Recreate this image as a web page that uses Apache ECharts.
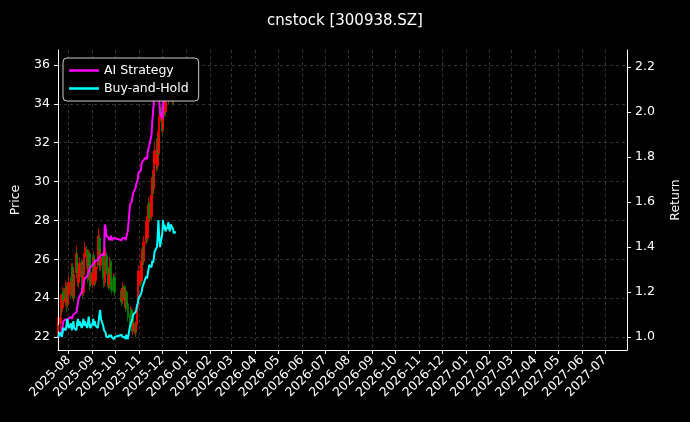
<!DOCTYPE html>
<html>
<head>
<meta charset="utf-8">
<script src="https://cdn.jsdelivr.net/npm/echarts@6/dist/echarts.min.js"></script>
<style>html,body{margin:0;background:#000}#chart{width:690px;height:422px}</style>
</head>
<body>
<div id="chart"></div>
<script>
// trading days start / holidays
const startDay = '2025-07-18';
const holidays = ['2025-10-01', '2025-10-02', '2025-10-03', '2025-10-06', '2025-10-07', '2025-10-08'];

// [open, close, low, high]
const ohlc = [
  [22.3,22.6,22.0,23.0],[22.7,23.0,22.4,23.4],[23.1,23.8,22.9,24.2],[23.9,23.4,23.1,24.1],[23.5,24.2,23.3,24.6],
  [24.3,23.9,23.6,24.5],[23.8,24.5,23.6,24.9],[24.6,24.0,23.8,24.8],[24.1,23.6,23.3,24.3],[23.7,24.3,23.5,24.6],
  [24.2,24.8,24.0,25.2],[24.9,24.2,24.0,25.1],[24.3,25.5,24.1,25.8],[25.6,24.9,24.6,25.8],[24.9,24.0,23.8,25.1],
  [24.1,25.2,23.9,25.5],[25.3,26.3,25.0,26.7],[26.2,25.6,25.3,26.5],[25.7,24.8,24.6,25.9],[24.8,25.0,24.5,25.4],
  [25.1,25.8,24.9,26.1],[25.9,24.9,24.7,26.0],[24.9,24.2,24.0,25.1],[24.3,25.1,24.1,25.4],[25.2,26.0,25.0,26.3],
  [26.1,26.6,25.8,26.9],[26.5,25.7,25.5,26.7],[25.8,25.0,24.8,25.9],[25.1,26.2,24.9,26.5],[26.3,25.4,25.2,26.4],
  [25.5,24.6,24.4,25.6],[24.7,25.3,24.5,25.6],[25.4,26.1,25.2,26.4],[26.2,25.5,25.3,26.3],[25.6,24.8,24.6,25.7],
  [24.9,25.6,24.7,25.9],[25.7,26.4,25.5,26.7],[26.5,27.2,26.3,27.6],[27.1,26.5,26.2,27.3],[26.6,25.6,25.4,26.7],
  [25.7,26.1,25.4,26.4],[26.2,25.2,25.0,26.3],[25.3,24.7,24.5,25.4],[24.8,25.5,24.6,25.8],[25.6,26.3,25.4,26.6],
  [26.2,25.4,25.2,26.4],[25.5,24.6,24.4,25.6],[24.7,25.2,24.5,25.5],[25.3,25.8,25.1,26.1],[25.9,24.9,24.7,26.0],
  [25.0,24.4,24.2,25.1],[24.5,25.0,24.3,25.3],[25.1,24.3,24.1,25.2],[24.4,23.8,23.6,24.5],[23.9,24.5,23.7,24.8],
  [24.6,24.0,23.8,24.7],[24.1,23.5,23.3,24.2],[23.6,24.2,23.4,24.5],[24.3,23.6,23.4,24.4],[23.7,23.0,22.8,23.8],
  [23.1,22.6,22.4,23.2],[22.7,23.3,22.5,23.6],[23.4,22.8,22.6,23.5],[22.9,22.3,22.1,23.0],[22.4,22.6,22.1,22.9],
  [22.7,22.2,22.0,22.8],[22.3,22.5,22.1,22.8],[22.6,23.4,22.4,23.7],[23.5,24.6,23.3,24.9],[24.7,25.4,24.5,25.7],
  [25.5,24.8,24.6,25.6],[24.9,25.9,24.7,26.2],[26.0,26.5,25.8,26.9],[26.6,25.8,25.6,26.7],[25.9,26.9,25.7,27.2],
  [27.0,27.6,26.8,28.0],[27.7,27.0,26.8,27.8],[27.1,28.2,26.9,28.5],[28.3,28.8,28.0,29.2],[28.9,28.1,27.9,29.0],
  [28.2,29.3,28.0,29.7],[29.4,30.2,29.2,30.6],[30.3,29.5,29.3,30.4],[29.6,30.8,29.4,31.2],[30.9,31.6,30.7,32.0],
  [31.7,30.7,30.5,31.8],[30.8,32.2,30.6,32.6],[32.3,31.4,31.2,32.4],[31.5,33.0,31.3,33.4],[33.1,33.8,32.9,34.2],
  [33.9,32.6,32.4,34.0],[32.7,33.9,32.5,34.3],[34.0,34.6,33.8,35.0],[34.7,33.5,33.3,34.8],[33.6,34.8,33.4,35.2],
  [34.9,35.4,34.6,35.8],[35.5,34.2,34.0,35.6],[34.3,35.0,34.1,35.4],[35.1,34.4,34.2,35.2],[34.5,34.9,34.3,35.3],
  [35.0,34.1,33.9,35.1],[34.2,35.2,34.0,35.6],[35.3,34.6,34.4,35.4],[34.7,35.0,34.5,35.4]
];

const aiStrategy = [
  1.00,1.01,1.02,1.03,1.05,1.07,1.08,1.08,1.07,1.08,
  1.08,1.09,1.08,1.09,1.10,1.10,1.11,1.13,1.15,1.17,
  1.18,1.20,1.22,1.23,1.25,1.26,1.27,1.28,1.29,1.30,
  1.31,1.32,1.32,1.33,1.33,1.34,1.34,1.35,1.35,1.36,
  1.36,1.37,1.36,1.50,1.49,1.45,1.44,1.43,1.44,1.45,
  1.43,1.44,1.44,1.43,1.44,1.44,1.43,1.44,1.46,1.47,
  1.59,1.59,1.60,1.62,1.64,1.66,1.68,1.68,1.70,1.73,
  1.74,1.77,1.78,1.78,1.78,1.80,1.79,1.82,1.84,1.85,
  1.90,1.96,2.00,2.05,2.08,2.10,2.12,2.10,2.05,2.00,
  1.97,2.03,2.08,2.12,2.15,2.14,2.16,2.15,2.18,2.17,
  2.16,2.19,2.18,2.18
];

const buyHold = [
  1.00,1.02,1.01,1.00,1.02,1.04,1.03,1.05,1.08,1.06,
  1.04,1.06,1.03,1.05,1.07,1.04,1.03,1.06,1.08,1.05,
  1.07,1.04,1.06,1.08,1.05,1.07,1.04,1.06,1.09,1.06,
  1.04,1.06,1.08,1.05,1.07,1.05,1.04,1.07,1.10,1.12,
  1.08,1.05,1.03,1.03,1.02,1.00,1.00,1.01,1.00,1.01,
  1.00,0.99,1.00,1.01,1.00,1.00,0.99,1.01,1.00,0.99,
  1.05,1.06,1.07,1.08,1.10,1.11,1.12,1.14,1.15,1.17,
  1.19,1.20,1.22,1.23,1.24,1.27,1.26,1.28,1.30,1.32,
  1.31,1.34,1.33,1.35,1.38,1.40,1.45,1.52,1.44,1.40,
  1.46,1.52,1.48,1.50,1.47,1.49,1.51,1.48,1.47,1.50,
  1.48,1.46,1.47,1.46
];

const priceTicks = [22, 24, 26, 28, 30, 32, 34, 36];
const returnTicks = [1.0, 1.2, 1.4, 1.6, 1.8, 2.0, 2.2];
const monthTicks = ['2025-08','2025-09','2025-10','2025-11','2025-12','2026-01','2026-02','2026-03','2026-04',
  '2026-05','2026-06','2026-07','2026-08','2026-09','2026-10','2026-11','2026-12','2027-01','2027-02',
  '2027-03','2027-04','2027-05','2027-06','2027-07'];

function tradingDays(n) {
  const out = [];
  const d = new Date(startDay + 'T00:00:00Z');
  while (out.length < n) {
    const s = d.toISOString().slice(0, 10);
    const wd = d.getUTCDay();
    if (wd !== 0 && wd !== 6 && holidays.indexOf(s) < 0) out.push(d.getTime());
    d.setUTCDate(d.getUTCDate() + 1);
  }
  return out;
}

const days = tradingDays(ohlc.length);
const monthTs = monthTicks.map(m => Date.parse(m + '-01T00:00:00Z'));
const white = '#ffffff';
const gridLine = { show: true, lineStyle: { color: '#555', type: [3, 3], width: 0.6 } };

const chart = echarts.init(document.getElementById('chart'));
chart.setOption({
  backgroundColor: '#000',
  animation: false,
  textStyle: { fontFamily: 'DejaVu Sans' },
  title: {
    text: 'cnstock [300938.SZ]', left: 'center', top: 9,
    textStyle: { color: white, fontSize: 15, fontWeight: 'normal', fontFamily: 'DejaVu Sans' }
  },
  legend: {
    left: 63, top: 58, orient: 'vertical', itemGap: 5,
    backgroundColor: '#000', borderColor: '#ccc', borderWidth: 1, borderRadius: 4,
    padding: [6, 10, 6, 6],
    icon: 'rect', itemWidth: 30, itemHeight: 2.5,
    textStyle: { color: white, fontSize: 12.5 },
    data: ['AI Strategy', 'Buy-and-Hold']
  },
  grid: { left: 58, right: 62, top: 50, bottom: 72 },
  xAxis: {
    type: 'value',
    min: Date.parse('2025-07-18T00:00:00Z'), max: Date.parse('2027-07-30T00:00:00Z'),
    axisLine: { lineStyle: { color: white } },
    axisTick: { show: true, customValues: monthTs, length: 4, lineStyle: { color: white } },
    axisLabel: {
      customValues: monthTs, rotate: 45, color: white, fontSize: 12.5,
      formatter: v => new Date(v).toISOString().slice(0, 7)
    },
    splitLine: gridLine
  },
  yAxis: [
    {
      type: 'value', min: 21.33, max: 36.77, name: 'Price', nameLocation: 'middle', nameGap: 36,
      nameTextStyle: { color: white, fontSize: 12.5 },
      axisLine: { show: true, lineStyle: { color: white } },
      axisTick: { show: true, customValues: priceTicks, length: 4 },
      axisLabel: { customValues: priceTicks, color: white, fontSize: 12.5 },
      splitLine: gridLine
    },
    {
      type: 'value', min: 0.942, max: 2.276, name: 'Return', nameLocation: 'middle', nameGap: 42,
      nameTextStyle: { color: white, fontSize: 12.5 },
      axisLine: { show: true, lineStyle: { color: white } },
      axisTick: { show: true, customValues: returnTicks, length: 4 },
      axisLabel: { customValues: returnTicks, color: white, fontSize: 12.5, formatter: v => v.toFixed(1) },
      splitLine: { show: false }
    }
  ],
  series: [
    {
      type: 'candlestick', yAxisIndex: 0, barWidth: 2,
      itemStyle: { color: '#ff0000', color0: '#008000', borderColor: '#ff0000', borderColor0: '#008000', borderWidth: 0.8 },
      data: ohlc.map((r, i) => [days[i], r[0], r[1], r[2], r[3]])
    },
    {
      name: 'AI Strategy', type: 'line', yAxisIndex: 1, showSymbol: false,
      lineStyle: { color: '#ff00ff', width: 2 }, itemStyle: { color: '#ff00ff' },
      data: aiStrategy.map((v, i) => [days[i], v])
    },
    {
      name: 'Buy-and-Hold', type: 'line', yAxisIndex: 1, showSymbol: false,
      lineStyle: { color: '#00ffff', width: 2 }, itemStyle: { color: '#00ffff' },
      data: buyHold.map((v, i) => [days[i], v])
    }
  ]
});
</script>
</body>
</html>
